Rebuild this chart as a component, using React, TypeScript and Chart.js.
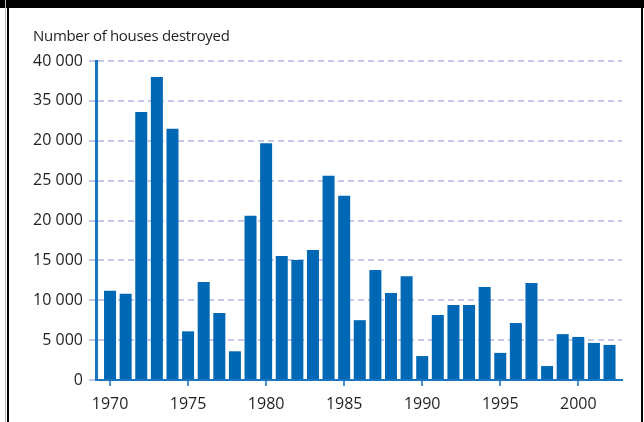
import React, { useEffect, useRef } from "react";
import { Chart, registerables } from "chart.js";

Chart.register(...registerables);

const years: number[] = [
  1970, 1971, 1972, 1973, 1974, 1975, 1976, 1977, 1978, 1979, 1980,
  1981, 1982, 1983, 1984, 1985, 1986, 1987, 1988, 1989, 1990,
  1991, 1992, 1993, 1994, 1995, 1996, 1997, 1998, 1999, 2000, 2001, 2002,
];

const housesDestroyed: number[] = [
  11200, 10800, 33600, 38000, 31500, 6100, 12300, 8400, 3600, 20600, 29700,
  15550, 15050, 16300, 25600, 23100, 7500, 13800, 10900, 13000, 3000,
  8150, 9400, 9400, 11650, 3400, 7150, 12150, 1750, 5750, 5400, 4650, 4400,
];

const xTickYears: number[] = [1970, 1975, 1980, 1985, 1990, 1995, 2000];
const yTickValues: number[] = [0, 5000, 10000, 15000, 20000, 25000, 30000, 35000, 40000];
const yTickLabels: string[] = [
  "0", "5 000", "10 000", "15 000", "20 000", "25 000", "20 000", "35 000", "40 000",
];

const titleText = "Number of houses destroyed";

const FONT = "'Open Sans', 'Liberation Sans', sans-serif";
const TEXT = "#231f20";
const BAR = "#0068b4";

export default function App() {
  const ref = useRef<HTMLCanvasElement | null>(null);

  useEffect(() => {
    if (!ref.current) return;
    const chart = new Chart(ref.current, {
      type: "bar",
      data: {
        datasets: [
          {
            data: years.map((y, i) => ({ x: y, y: housesDestroyed[i] })),
            backgroundColor: BAR,
            borderWidth: 0,
            barPercentage: 0.77,
            categoryPercentage: 1,
          },
        ],
      },
      options: {
        responsive: false,
        animation: false,
        devicePixelRatio: 1,
        layout: { padding: { top: 61, right: 22, left: 0, bottom: 0 } },
        plugins: {
          legend: { display: false },
          tooltip: { enabled: false },
          title: { display: false },
        },
        scales: {
          x: {
            type: "linear",
            offset: false,
            bounds: "data",
            min: 1969.1,
            max: 2002.8,
            afterDataLimits: (scale: any) => {
              scale.min = 1969.1;
              scale.max = 2002.8;
            },
            afterBuildTicks: (scale: any) => {
              scale.ticks = xTickYears.map((v) => ({ value: v }));
            },
            afterFit: (scale: any) => {
              scale.height = 42;
            },
            grid: {
              display: true,
              offset: false,
              drawOnChartArea: false,
              drawTicks: true,
              tickLength: 6,
              color: "#4a8fd0",
              lineWidth: 2,
            },
            border: { display: true, color: "#1a74c4", width: 2 },
            ticks: {
              color: TEXT,
              font: { family: FONT, size: 16 },
              padding: 9,
              maxRotation: 0,
              autoSkip: false,
              callback: (v: any) => String(v),
            },
          },
          y: {
            min: 0,
            max: 40000,
            afterBuildTicks: (scale: any) => {
              scale.ticks = yTickValues.map((v) => ({ value: v }));
            },
            afterFit: (scale: any) => {
              scale.width = 96;
            },
            grid: {
              color: "#c3c9e6",
              lineWidth: 2,
              tickLength: 7,
              drawTicks: true,
            },
            border: { display: true, color: "#1a74c4", width: 3, dash: [6, 4] },
            ticks: {
              color: TEXT,
              font: { family: FONT, size: 16 },
              padding: 6,
              autoSkip: false,
              callback: (v: any) => {
                const idx = yTickValues.indexOf(Number(v));
                return idx >= 0 ? yTickLabels[idx] : "";
              },
            },
          },
        },
      },
    });
    return () => chart.destroy();
  }, []);

  return (
    <div
      style={{
        position: "fixed",
        left: 0,
        top: 0,
        width: 644,
        height: 422,
        background: "#ffffff",
        overflow: "hidden",
      }}
    >
      <canvas
        ref={ref}
        width={644}
        height={422}
        style={{ position: "absolute", left: 0, top: 0, width: 644, height: 422 }}
      />
      <div
        style={{
          position: "absolute",
          left: 33,
          top: 25,
          fontFamily: FONT,
          fontSize: 15,
          letterSpacing: "-0.3px",
          lineHeight: "20px",
          color: TEXT,
          whiteSpace: "nowrap",
        }}
      >
        {titleText}
      </div>
      <div style={{ position: "absolute", left: 0, top: 0, width: 644, height: 8, background: "#000" }} />
      <div style={{ position: "absolute", left: 5, top: 0, width: 1, height: 422, background: "#bbb" }} />
      <div style={{ position: "absolute", left: 7, top: 0, width: 2, height: 422, background: "#000" }} />
      <div style={{ position: "absolute", left: 641, top: 0, width: 2, height: 422, background: "#000" }} />
    </div>
  );
}
